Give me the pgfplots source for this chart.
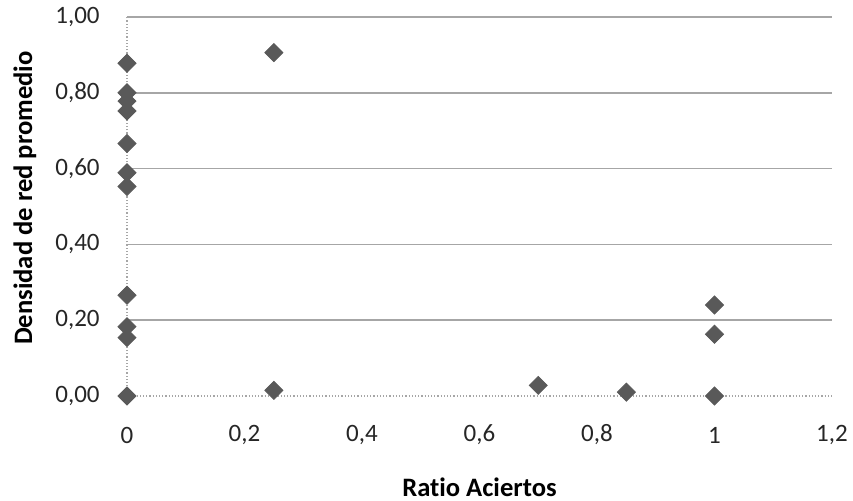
\documentclass[border=0pt]{standalone}
\usepackage{fontspec}
\setmainfont[Ligatures=NoCommon]{Carlito}
\usepackage{pgfplots}
\pgfplotsset{compat=1.18}
\definecolor{mk}{HTML}{595959}
\definecolor{gridc}{HTML}{A6A6A6}
\begin{document}
\begin{tikzpicture}
\useasboundingbox (-63.5pt,-52.5pt) rectangle (363pt,198pt);
\begin{axis}[
  scale only axis,
  width=352.5pt, height=189.5pt,
  xmin=0, xmax=1.2, ymin=0, ymax=1,
  axis x line=bottom, axis y line=left,
  axis line style={-, densely dotted, gridc, line width=0.6pt},
  xtick={0,0.2,0.4,0.6,0.8,1,1.2},
  xticklabels={0,{0,2},{0,4},{0,6},{0,8},1,{1,2}},
  ytick={0,0.2,0.4,0.6,0.8,1},
  yticklabels={{0,00},{0,20},{0,40},{0,60},{0,80},{1,00}},
  major tick length=0pt,
  extra y ticks={0.2,0.4,0.6,0.8,1},
  extra y tick labels={},
  extra y tick style={grid=major, major grid style={solid, gridc, line width=0.8pt}},
  tick label style={font=\fontsize{12.5}{14}\selectfont, text=black!85},
  x tick label style={anchor=center, yshift=-19.5pt},
  y tick label style={anchor=east, inner sep=0pt, xshift=-13.5pt},
  xlabel={Ratio Aciertos},
  ylabel={Densidad de red promedio},
  label style={font=\bfseries\fontsize{13.3}{15}\selectfont, text=black},
  x label style={at={(axis description cs:0.5,-0.2401)}, anchor=center},
  y label style={at={(axis description cs:-0.1447,0.522)}, anchor=center, rotate=0},
  clip=false,
]
\addplot[only marks, mark=square*, mark size=3.2pt, mark options={rotate=45, fill=mk, draw=mk}] coordinates {
  (0,0.878) (0,0.800) (0,0.778) (0,0.752) (0,0.666) (0,0.589) (0,0.553)
  (0,0.266) (0,0.183) (0,0.154) (0,0.0)
  (0.25,0.906) (0.25,0.015)
  (0.7,0.028) (0.85,0.01)
  (1,0.24) (1,0.163) (1,0.0)
};
\end{axis}
\end{tikzpicture}
\end{document}
